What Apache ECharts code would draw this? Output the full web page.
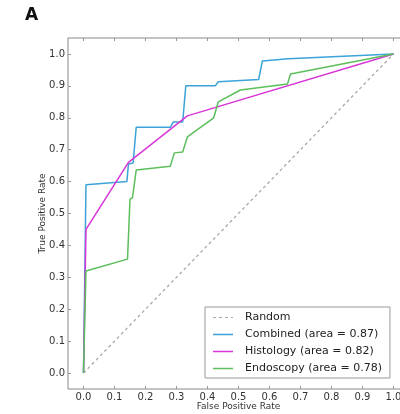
<!DOCTYPE html>
<html>
<head>
<meta charset="utf-8">
<script src="https://cdn.jsdelivr.net/npm/echarts@6/dist/echarts.min.js"></script>
<style>
  html, body { margin: 0; padding: 0; background: #fff; }
  #chart { width: 400px; height: 414px; }
</style>
</head>
<body>
<div id="chart"></div>
<script>
// ROC points: [false positive rate, true positive rate]
const randomLine = [[0, 0], [1, 1]];
const combined = [
  [0, 0], [0.008, 0.59], [0.14, 0.6], [0.145, 0.655], [0.16, 0.658],
  [0.17, 0.77], [0.28, 0.77], [0.29, 0.787], [0.32, 0.787], [0.33, 0.9],
  [0.425, 0.9], [0.435, 0.913], [0.565, 0.92], [0.577, 0.978], [0.66, 0.985], [1, 1]
];
const histology = [[0, 0], [0.008, 0.45], [0.145, 0.66], [0.335, 0.806], [1, 1]];
const endoscopy = [
  [0, 0], [0.008, 0.32], [0.142, 0.357], [0.15, 0.545], [0.158, 0.55],
  [0.17, 0.636], [0.28, 0.648], [0.293, 0.69], [0.32, 0.693], [0.335, 0.74],
  [0.42, 0.8], [0.435, 0.85], [0.506, 0.887], [0.658, 0.906], [0.668, 0.937], [1, 1]
];
const tickValues = [0, 0.1, 0.2, 0.3, 0.4, 0.5, 0.6, 0.7, 0.8, 0.9, 1.0];

const FONT = "DejaVu Sans";
const fmt = v => v.toFixed(1);

const tickStyle = { show: true, inside: true, length: 3, customValues: tickValues, lineStyle: { color: "#999" } };
const noLine = { show: false, onZero: false };

// legend keys drawn as plain line segments (solid or dashed)
const solidKey = "path://M0,0h20v1.5h-20z";
const dashKey = "path://M0,0h3v1.2h-3z M6,0h3v1.2h-3z M12,0h3v1.2h-3z M18,0h2v1.2h-2z";

const chart = echarts.init(document.getElementById("chart"));

chart.setOption({
  animation: false,
  backgroundColor: "#fff",
  textStyle: { fontFamily: FONT },
  graphic: [{
    type: "text", left: 25, top: 7,
    style: { text: "A", font: "bold 17px " + FONT, fill: "#111" }
  }],
  grid: {
    left: 68, top: 38, height: 351, width: 341,
    outerBoundsMode: "none",
    show: true, borderColor: "#888", borderWidth: 1
  },
  legend: {
    orient: "vertical", left: 205, top: 307,
    padding: [5, 8, 4, 8],
    itemWidth: 20, itemHeight: 12, itemGap: 6,
    backgroundColor: "#fff", borderColor: "#999", borderWidth: 1,
    textStyle: { fontFamily: FONT, fontSize: 11, color: "#222", padding: [0, 0, 0, 7] },
    data: [
      { name: "Random", icon: dashKey },
      { name: "Combined (area = 0.87)", icon: solidKey },
      { name: "Histology (area = 0.82)", icon: solidKey },
      { name: "Endoscopy (area = 0.78)", icon: solidKey }
    ]
  },
  xAxis: [{
    type: "value", min: -0.05, max: 1.05,
    name: "False Positive Rate", nameLocation: "middle", nameGap: 13, nameMoveOverlap: false,
    nameTextStyle: { fontFamily: FONT, fontSize: 9, color: "#333" },
    axisLine: noLine,
    splitLine: { show: false },
    axisTick: tickStyle,
    axisLabel: { customValues: tickValues, formatter: fmt, margin: 3, fontSize: 10, color: "#333", fontFamily: FONT }
  }, {
    type: "value", position: "top", min: -0.05, max: 1.05,
    axisLine: noLine, splitLine: { show: false },
    axisTick: tickStyle, axisLabel: { show: false }
  }],
  yAxis: [{
    type: "value", min: -0.05, max: 1.05,
    name: "True Positive Rate", nameLocation: "middle", nameGap: 21, nameMoveOverlap: false,
    nameTextStyle: { fontFamily: FONT, fontSize: 9, color: "#333" },
    axisLine: noLine,
    splitLine: { show: false },
    axisTick: tickStyle,
    axisLabel: { customValues: tickValues, formatter: fmt, margin: 3, fontSize: 10, color: "#333", fontFamily: FONT }
  }],
  series: [{
    name: "Random", type: "line", data: randomLine, symbol: "none",
    lineStyle: { color: "#a8a8a8", width: 1.3, type: [3, 3] }, itemStyle: { color: "#a8a8a8" }
  }, {
    name: "Combined (area = 0.87)", type: "line", data: combined, symbol: "none",
    lineStyle: { color: "#3ba3d8", width: 1.5 }, itemStyle: { color: "#3ba3d8" }
  }, {
    name: "Histology (area = 0.82)", type: "line", data: histology, symbol: "none",
    lineStyle: { color: "#d836d8", width: 1.5 }, itemStyle: { color: "#d836d8" }
  }, {
    name: "Endoscopy (area = 0.78)", type: "line", data: endoscopy, symbol: "none",
    lineStyle: { color: "#5cbf5c", width: 1.5 }, itemStyle: { color: "#5cbf5c" }
  }]
});
</script>
</body>
</html>
